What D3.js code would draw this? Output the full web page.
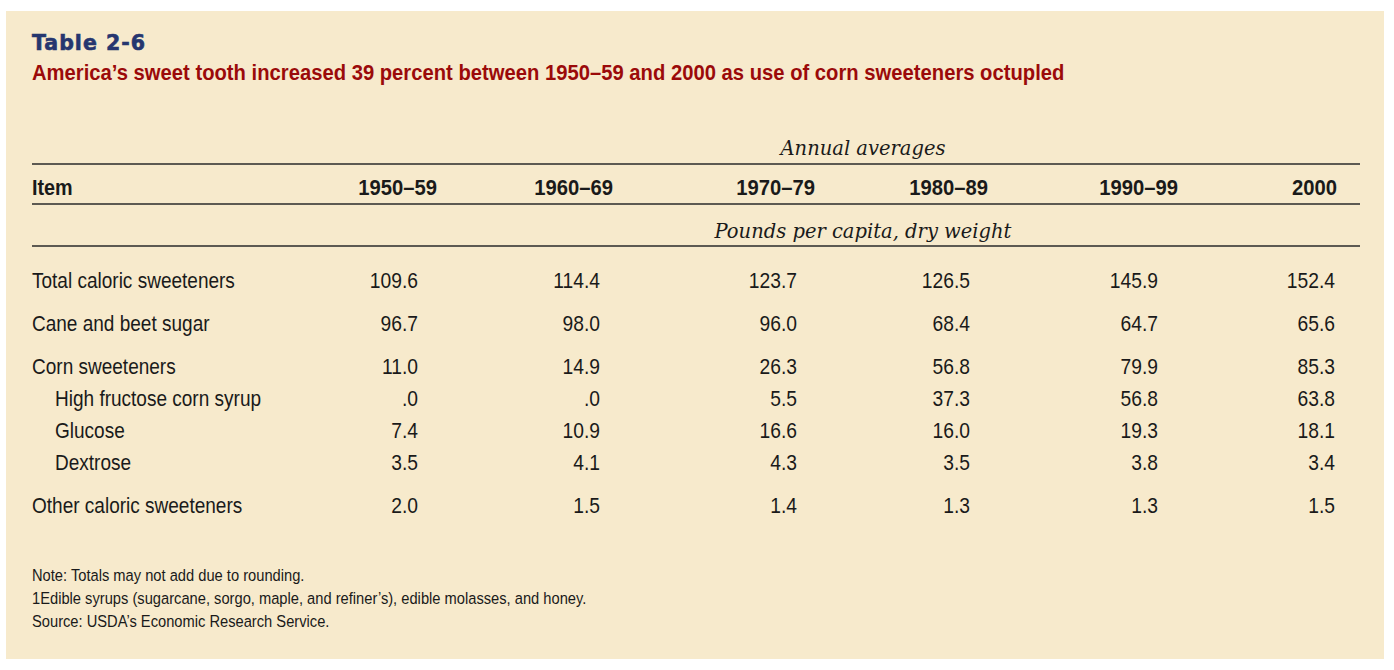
<!DOCTYPE html>
<html>
<head>
<meta charset="utf-8">
<script src="https://cdn.jsdelivr.net/npm/d3@7"></script>
<style>
  body { margin: 0; background: #fff; }
  .narrow { font-family: "Liberation Sans", Arial, sans-serif; }
  .serif { font-family: "DejaVu Serif", "Liberation Serif", serif; font-style: italic; }
</style>
</head>
<body>
<svg id="table" width="1394" height="670"></svg>
<script>
const columns = ["1950–59", "1960–69", "1970–79", "1980–89", "1990–99", "2000"]
const items = [
    "Total caloric sweeteners",
    "Cane and beet sugar",
    "Corn sweeteners",
    "High fructose corn syrup",
    "Glucose",
    "Dextrose",
    "Other caloric sweeteners"
]
const subItem = [false, false, false, true, true, true, false]
const rowGroup = [0, 1, 2, 2, 2, 2, 3]

const totalCaloric = [109.6, 114.4, 123.7, 126.5, 145.9, 152.4]
const caneBeet = [96.7, 98.0, 96.0, 68.4, 64.7, 65.6]
const cornSweet = [11.0, 14.9, 26.3, 56.8, 79.9, 85.3]
const hfcs = [0.0, 0.0, 5.5, 37.3, 56.8, 63.8]
const glucose = [7.4, 10.9, 16.6, 16.0, 19.3, 18.1]
const dextrose = [3.5, 4.1, 4.3, 3.5, 3.8, 3.4]
const otherCaloric = [2.0, 1.5, 1.4, 1.3, 1.3, 1.5]

const notes = [
    "Note: Totals may not add due to rounding.",
    "1Edible syrups (sugarcane, sorgo, maple, and refiner’s), edible molasses, and honey.",
    "Source: USDA’s Economic Research Service."
]

const rows = [totalCaloric, caneBeet, cornSweet, hfcs, glucose, dextrose, otherCaloric]

const svg = d3.select("#table")
const ink = "#1a1a1a"

// no narrow face installed, so compress Liberation Sans horizontally
function place(x, y, k) {
    return `translate(${x},${y}) scale(${k || 0.865},1)`
}

// panel
svg.append("rect").attr("x", 6).attr("y", 11).attr("width", 1378).attr("height", 648).attr("fill", "#f7eacc")

svg.append("text").attr("x", 32).attr("y", 50)
    .style("font-family", "'DejaVu Sans', sans-serif").style("font-weight", "bold")
    .style("font-size", "20.5px").style("letter-spacing", "1px")
    .attr("fill", "#26366f").attr("stroke", "#26366f").attr("stroke-width", 0.6)
    .text("Table 2-6")

svg.append("text").attr("class", "narrow").attr("transform", place(32, 80, 0.92))
    .style("font-weight", "bold").style("font-size", "22px")
    .attr("fill", "#9b0a0a")
    .text("America’s sweet tooth increased 39 percent between 1950–59 and 2000 as use of corn sweeteners octupled")

// scales
const xVal = d3.scaleOrdinal(columns, [418, 600, 797, 970, 1158, 1335])
const xHead = d3.scaleOrdinal(columns, [437, 613, 815, 988, 1178, 1337])
// vertical position: groups are spaced wider than sub-rows
const subCount = items.map((d, i) => subItem.slice(0, i + 1).filter(Boolean).length)
const yRow = d3.scaleLinear().domain([0, 1]).range([280, 323])
const rowPos = i => yRow(rowGroup[i] + subCount[i] * 32 / 43)

const fmt = v => {
    const s = d3.format(".1f")(v)
    return v < 1 ? s.replace(/^0/, "") : s
}

// rules
const left = 32, right = 1360
;[164, 204, 246].forEach(y => {
    svg.append("line").attr("x1", left).attr("x2", right).attr("y1", y).attr("y2", y)
        .attr("stroke", "#2a2a2a").attr("stroke-width", 1.5)
})

// spanner labels
svg.append("text").attr("class", "serif").attr("x", 863).attr("y", 155)
    .attr("text-anchor", "middle").style("font-size", "19.5px").attr("fill", ink).text("Annual averages")
svg.append("text").attr("class", "serif").attr("x", 863).attr("y", 238)
    .attr("text-anchor", "middle").style("font-size", "19.5px").attr("fill", ink).text("Pounds per capita, dry weight")

// header row
svg.append("text").attr("class", "narrow").attr("transform", place(left, 195, 0.9))
    .style("font-weight", "bold").style("font-size", "22px").attr("fill", ink).text("Item")
svg.selectAll(".colhead").data(columns).enter().append("text")
    .attr("class", "narrow colhead")
    .attr("transform", d => place(xHead(d), 195, 0.92))
    .attr("text-anchor", "end")
    .style("font-weight", "bold").style("font-size", "22px").attr("fill", ink)
    .text(d => d)

// body
const body = svg.selectAll(".row").data(rows).enter().append("g").attr("class", "row")
    .attr("transform", (d, i) => `translate(0, ${rowPos(i)})`)

body.append("text").attr("class", "narrow")
    .attr("transform", (d, i) => place(subItem[i] ? left + 23 : left, 0))
    .attr("dy", "0.36em")
    .style("font-size", "22px").attr("fill", ink)
    .text((d, i) => items[i])

body.selectAll(".cell").data(d => d.map((v, j) => ({v, col: columns[j]}))).enter().append("text")
    .attr("class", "narrow cell")
    .attr("transform", d => place(xVal(d.col), 0, 0.875))
    .attr("dy", "0.36em")
    .attr("text-anchor", "end")
    .style("font-size", "22px").attr("fill", ink)
    .text(d => fmt(d.v))

// notes
svg.selectAll(".note").data(notes).enter().append("text")
    .attr("class", "narrow note")
    .attr("transform", (d, i) => place(left, 575 + i * 23))
    .attr("dy", "0.36em")
    .style("font-size", "17px").attr("fill", ink)
    .text(d => d)
</script>
</body>
</html>
